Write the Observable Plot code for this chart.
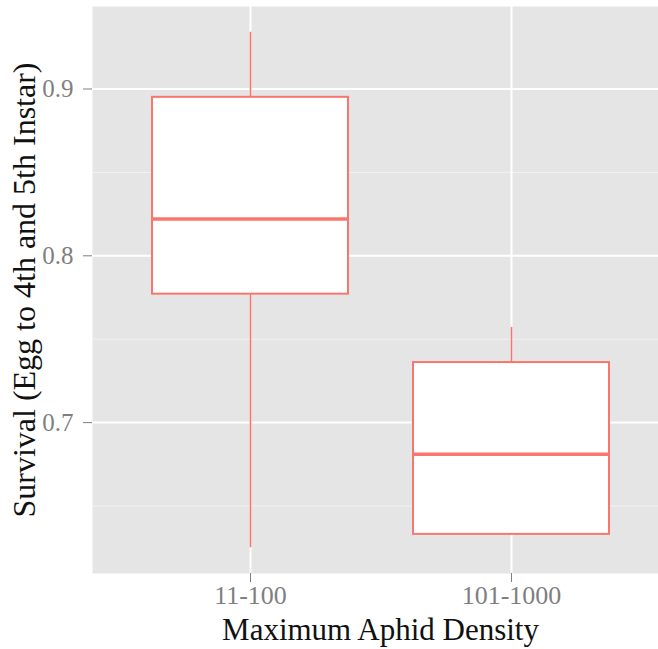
<!DOCTYPE html>
<html>
<head>
<meta charset="utf-8">
<script src="https://cdn.jsdelivr.net/npm/d3@7"></script>
<script src="https://cdn.jsdelivr.net/npm/@observablehq/plot@0.6"></script>
<style>
  html, body { margin: 0; padding: 0; background: white; overflow: hidden; }
  #chart svg, #chart svg text { font-family: "Liberation Serif", "Times New Roman", serif !important; }
</style>
</head>
<body>
<div id="chart"></div>
<script>
// Data
const categories = ["11-100", "101-1000"];
const whiskerLow  = [0.625, 0.633];
const q1          = [0.777, 0.633];
const median      = [0.822, 0.681];
const q3          = [0.895, 0.736];
const whiskerHigh = [0.934, 0.757];

const majorTicks = [0.7, 0.8, 0.9];
const minorTicks = [0.65, 0.75, 0.85];

const xTitle = "Maximum Aphid Density";
const yTitle = "Survival (Egg to 4th and 5th Instar)";

const rows = categories.map((c, i) => ({
  cat: c, lo: whiskerLow[i], q1: q1[i], med: median[i], q3: q3[i], hi: whiskerHigh[i]
}));

// ggplot-style 5% expansion of the data range
const ymin = d3.min(whiskerLow), ymax = d3.max(whiskerHigh);
const pad = (ymax - ymin) * 0.05;
const yDomain = [ymin - pad, ymax + pad];

const red = "#F8766D";
const grey = "#7f7f7f";
const font = "Liberation Serif";

const chart = Plot.plot({
  width: 658,
  height: 649,
  marginLeft: 92,
  marginRight: -10,
  marginTop: 6,
  marginBottom: 76,
  style: "font-family: 'Liberation Serif', serif; background: white;",
  x: { type: "band", domain: categories, paddingInner: 0.25, paddingOuter: 0.225, align: 0.5 },
  y: { domain: yDomain },
  marks: [
    Plot.frame({ fill: "#e5e5e5", stroke: "none" }),
    Plot.ruleY(minorTicks, { y: d => d, stroke: "#f2f2f2", strokeWidth: 1 }),
    Plot.ruleY(majorTicks, { y: d => d, stroke: "white", strokeWidth: 2 }),
    Plot.ruleX(categories, { x: d => d, stroke: "white", strokeWidth: 2 }),
    Plot.ruleX(rows, { x: "cat", y1: "lo", y2: "hi", stroke: red, strokeWidth: 1.6 }),
    Plot.barY(rows, { x: "cat", y1: "q1", y2: "q3", fill: "white", stroke: red, strokeWidth: 2 }),
    Plot.tickY(rows, { x: "cat", y: "med", stroke: red, strokeWidth: 3.5 }),
    Plot.axisY({
      ticks: majorTicks, tickFormat: d3.format(".1f"), tickSize: 9, tickPadding: 10,
      fontSize: 25, color: grey, label: null, fontFamily: font
    }),
    Plot.axisX({
      tickSize: 9, tickPadding: 3, fontSize: 26, color: grey, label: null, fontFamily: font
    }),
    Plot.text([xTitle], {
      text: d => d, frameAnchor: "bottom", dy: 66, lineAnchor: "bottom", textAnchor: "middle",
      fontSize: 31, fill: "#111", fontFamily: font
    }),
    Plot.text([yTitle], {
      text: d => d, frameAnchor: "left", dx: -58, rotate: -90, lineAnchor: "bottom", textAnchor: "middle",
      fontSize: 32, fill: "#111", fontFamily: font
    })
  ]
});

document.getElementById("chart").appendChild(chart);
</script>
</body>
</html>
